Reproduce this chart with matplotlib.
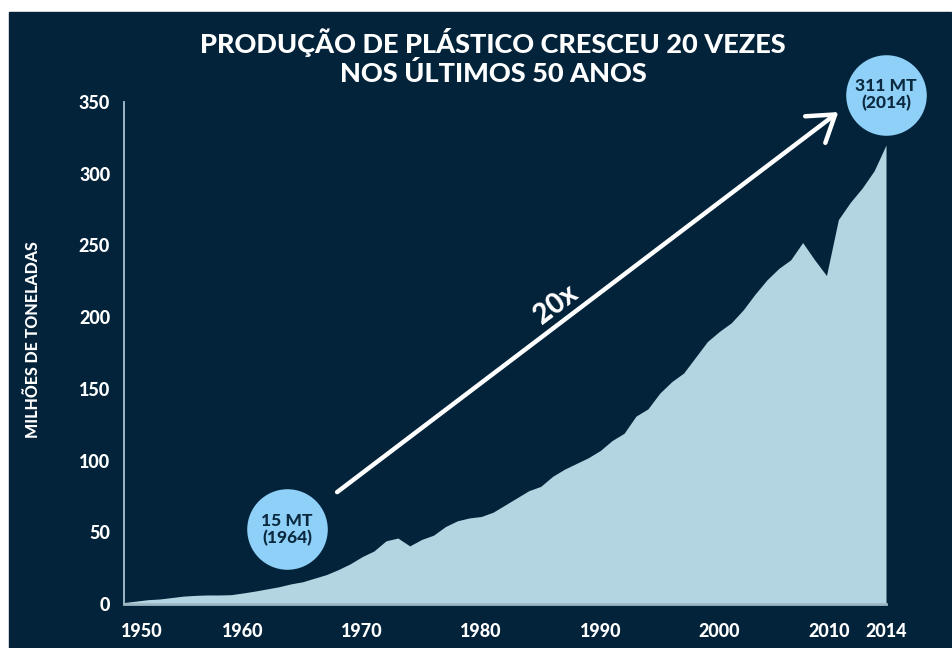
import matplotlib
matplotlib.use("Agg")
import matplotlib.pyplot as plt
from matplotlib.patches import Rectangle
from matplotlib.transforms import ScaledTranslation

# ---- data ----
years = list(range(1950, 2015))
production = [1, 2, 3, 3.5, 4.5, 5.5, 6, 6.3, 6.3, 6.5,
              7.7, 9, 10.5, 12, 14, 15.5, 18, 20.5, 24, 28,
              33, 37, 44, 46, 40.5, 45, 48, 54, 58, 60,
              61, 64, 69, 74, 79, 82, 89, 94, 98, 102,
              107, 114, 119, 131, 136, 147, 155, 161, 172, 183,
              190, 196, 205, 216, 226, 234, 240, 252, 240, 229,
              268, 280, 290, 302, 320]
xtick_years = [1950, 1960, 1970, 1980, 1990, 2000, 2010, 2014]
xtick_labels = ["1950", "1960", "1970", "1980", "1990", "2000", "2010", "2014"]
ytick_values = [0, 50, 100, 150, 200, 250, 300, 350]
ytick_labels = ["0", "50", "100", "150", "200", "250", "300", "350"]
title = "PRODUÇÃO DE PLÁSTICO CRESCEU 20 VEZES\nNOS ÚLTIMOS 50 ANOS"
ylabel = "MILHÕES DE TONELADAS"
start_label = "15 MT\n(1964)"
end_label = "311 MT\n(2014)"
start_circle = (1963.7, 52)
end_circle = (2014, 355)
arrow_from = (1967.9, 78)
arrow_to = (2010.0, 343)
growth_label = "20x"
growth_pos = (1986.3, 209)

NAVY = "#03233a"
AREA = "#b3d4e1"
CIRCLE = "#8fd0f8"
FONT = ["Lato", "DejaVu Sans"]
WEIGHT = "black"

W, H = 952, 648
fig = plt.figure(figsize=(W / 100, H / 100), dpi=100)
fig.patch.set_facecolor("white")
fig.add_artist(Rectangle((9 / W, 0), (951 - 9) / W, (H - 12) / H,
                         transform=fig.transFigure, color=NAVY, zorder=0))

ax = fig.add_axes([124 / W, 44 / H, 762 / W, 502 / H])
ax.set_facecolor("none")
ax.fill_between(years, production, 0, color=AREA, lw=0, zorder=2)
ax.set_xlim(1950, 2014)
ax.set_ylim(0, 350)

for s in ["top", "right"]:
    ax.spines[s].set_visible(False)
ax.spines["left"].set_color("#a9c2d0")
ax.spines["left"].set_linewidth(1.3)
ax.spines["bottom"].set_color("#9db6c4")
ax.spines["bottom"].set_linewidth(2)
ax.spines["bottom"].set_zorder(3)

ax.set_xticks(xtick_years)
ax.set_xticklabels(xtick_labels)
ax.set_yticks(ytick_values)
ax.set_yticklabels(ytick_labels)
ax.tick_params(axis="both", length=0, colors="white", labelsize=13)
ax.tick_params(axis="y", pad=10)
ax.tick_params(axis="x", pad=14)
for lab in ax.get_xticklabels() + ax.get_yticklabels():
    lab.set_fontweight(WEIGHT)
    lab.set_fontfamily(FONT)
    lab.set_color("white")
xl = ax.get_xticklabels()
xl[0].set_transform(xl[0].get_transform() + ScaledTranslation(18 / 100, 0, fig.dpi_scale_trans))
xl[6].set_transform(xl[6].get_transform() + ScaledTranslation(-9 / 100, 0, fig.dpi_scale_trans))

fig.text(493 / W, 1 - 57 / H, title, ha="center", va="center", color="white",
         fontsize=19.5, fontweight=WEIGHT, family=FONT, linespacing=1.2)
fig.text(33 / W, 1 - 340 / H, ylabel, ha="center", va="center", rotation=90,
         color="white", fontsize=11.5, fontweight=WEIGHT, family=FONT)

ax.annotate("", xy=arrow_to, xytext=arrow_from, xycoords="data",
            arrowprops=dict(arrowstyle="->,head_length=0.6,head_width=0.4",
                            color="white", lw=3.2, mutation_scale=30,
                            shrinkA=0, shrinkB=0), zorder=4, annotation_clip=False)
ax.text(growth_pos[0], growth_pos[1], growth_label, rotation=37, ha="center", va="center",
        color="white", fontsize=20, fontweight=WEIGHT, family=FONT, zorder=5)

for (cx, cy), txt in [(start_circle, start_label), (end_circle, end_label)]:
    ax.plot([cx], [cy], marker="o", markersize=58, color=CIRCLE,
            markeredgewidth=0, clip_on=False, zorder=6)
    ax.text(cx, cy, txt, ha="center", va="center", color="#0b2a40",
            fontsize=12.5, fontweight=WEIGHT, family=FONT, zorder=7,
            linespacing=1.1, clip_on=False)

fig.savefig("out.png", dpi=100, facecolor=fig.get_facecolor())
